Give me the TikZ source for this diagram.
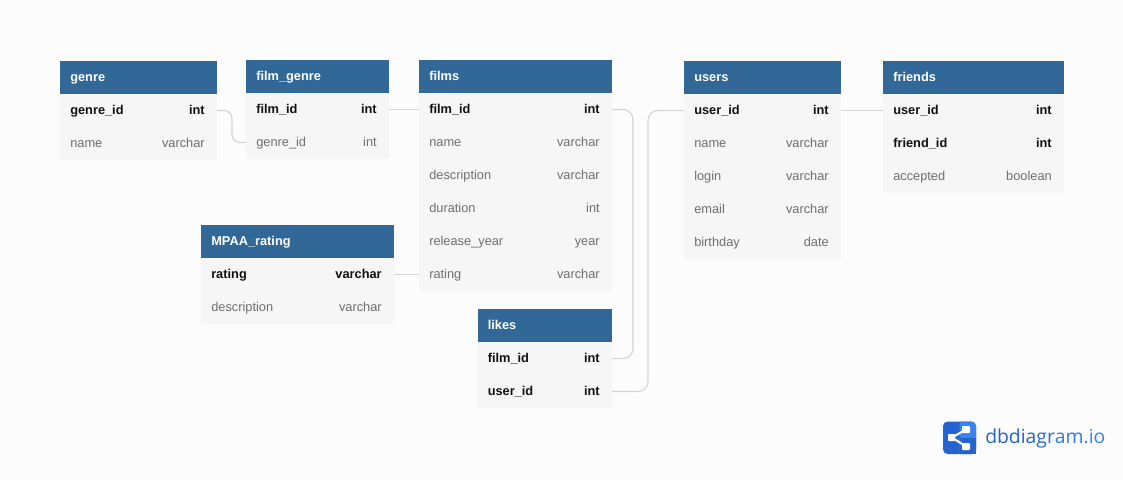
\documentclass[tikz,border=0pt]{standalone}
\usepackage{fontspec}
\setmainfont{Liberation Sans}
\newfontfamily\logofont{Open Sans}
\definecolor{pagebg}{HTML}{FCFCFC}
\definecolor{headblue}{HTML}{316897}
\definecolor{rowbg}{HTML}{F6F6F6}
\definecolor{pkink}{HTML}{111111}
\definecolor{plainink}{HTML}{6F6F6F}
\definecolor{wire}{HTML}{D4D4D4}
\definecolor{logodark}{HTML}{2563CF}
\definecolor{logolight}{HTML}{3B82F1}
\newcommand{\tblhead}[5]{% name,x,y,w,title
  \node[headbox,minimum width=#4*0.75pt] (#1) at (#2,#3) {};
  \node[headtext] (#1-title) at ([xshift=7.5pt,yshift=-0.75pt]#1.west) {#5};
}
\newcommand{\tblrow}[8]{% id,x,y,w,label,type,style-box,style-text
  \node[rowbox,minimum width=#4*0.75pt] (#1) at (#2,#3) {};
  \node[#7,anchor=west] (#1-name) at ([xshift=7.5pt,yshift=-0.75pt]#1.west) {#5};
  \node[#7,anchor=east] (#1-type) at ([xshift=-9pt,yshift=-0.75pt]#1.east) {#6};
}
\tikzset{
  headbox/.style={anchor=north west,fill=headblue,draw=none,minimum height=24.75pt,inner sep=0pt,outer sep=0pt},
  headtext/.style={anchor=west,text=white,font=\fontsize{9.6pt}{11pt}\selectfont\bfseries,inner sep=0pt,text height=7pt,text depth=2pt},
  rowbox/.style={anchor=north west,fill=rowbg,draw=none,minimum height=24.75pt,inner sep=0pt,outer sep=0pt},
  pktext/.style={text=pkink,font=\fontsize{9.6pt}{11pt}\selectfont\bfseries,inner sep=0pt,text height=7pt,text depth=2pt},
  plaintext/.style={text=plainink,font=\fontsize{9.6pt}{11pt}\selectfont,inner sep=0pt,text height=7pt,text depth=2pt},
  link/.style={draw=wire,line width=0.85pt,rounded corners=6pt},
  linkb/.style={draw=wire,line width=0.85pt,rounded corners=7.5pt}
}
\begin{document}
\begin{tikzpicture}[x=0.75pt,y=-0.75pt]
\useasboundingbox (0,0) rectangle (1123,480);
\fill[pagebg] (0,0) rectangle (1123,480);

% genre
\tblhead{genre}{60}{61}{157}{genre}
\tblrow{genre-id}{60}{94}{157}{genre\_id}{int}{pktext}{}
\tblrow{genre-name}{60}{127}{157}{name}{varchar}{plaintext}{}
% film_genre
\tblhead{fg}{246}{60}{143}{film\_genre}
\tblrow{fg-film}{246}{93}{143}{film\_id}{int}{pktext}{}
\tblrow{fg-genre}{246}{126}{143}{genre\_id}{int}{plaintext}{}
% films
\tblhead{films}{419}{60}{193}{films}
\tblrow{films-id}{419}{93}{193}{film\_id}{int}{pktext}{}
\tblrow{films-name}{419}{126}{193}{name}{varchar}{plaintext}{}
\tblrow{films-desc}{419}{159}{193}{description}{varchar}{plaintext}{}
\tblrow{films-dur}{419}{192}{193}{duration}{int}{plaintext}{}
\tblrow{films-year}{419}{225}{193}{release\_year}{year}{plaintext}{}
\tblrow{films-rating}{419}{258}{193}{rating}{varchar}{plaintext}{}
% MPAA
\tblhead{mpaa}{201}{225}{193}{MPAA\_rating}
\tblrow{mpaa-rating}{201}{258}{193}{rating}{varchar}{pktext}{}
\tblrow{mpaa-desc}{201}{291}{193}{description}{varchar}{plaintext}{}
% likes
\tblhead{likes}{477.5}{309}{134.5}{likes}
\tblrow{likes-film}{477.5}{342}{134.5}{film\_id}{int}{pktext}{}
\tblrow{likes-user}{477.5}{375}{134.5}{user\_id}{int}{pktext}{}
% users
\tblhead{users}{684}{61}{157}{users}
\tblrow{users-id}{684}{94}{157}{user\_id}{int}{pktext}{}
\tblrow{users-name}{684}{127}{157}{name}{varchar}{plaintext}{}
\tblrow{users-login}{684}{160}{157}{login}{varchar}{plaintext}{}
\tblrow{users-email}{684}{193}{157}{email}{varchar}{plaintext}{}
\tblrow{users-birth}{684}{226}{157}{birthday}{date}{plaintext}{}
% friends
\tblhead{friends}{883}{61}{181}{friends}
\tblrow{friends-user}{883}{94}{181}{user\_id}{int}{pktext}{}
\tblrow{friends-friend}{883}{127}{181}{friend\_id}{int}{pktext}{}
\tblrow{friends-acc}{883}{160}{181}{accepted}{boolean}{plaintext}{}

% connectors
\draw[link] (genre-id.east) -- ++(15,0) |- (fg-genre.west);
\draw[link] (fg-film.east) -- (films-id.west);
\draw[linkb] (films-id.east) -- ++(21,0) |- (likes-film.east);
\draw[linkb] (likes-user.east) -- ++(36,0) |- (users-id.west);
\draw[link] (mpaa-rating.east) -- (films-rating.west);
\draw[link] (users-id.east) -- (friends-user.west);

% logo
\fill[logodark,rounded corners=3.5pt] (943,421.5) rectangle (976,454);
\begin{scope}
  \clip (959.5,421) rectangle (976,454);
  \fill[logolight,rounded corners=3.5pt] (943,421.5) rectangle (976,454);
  \fill[logodark] (959.5,438) rectangle (976,454);
\end{scope}
\coordinate (hub) at (952,437.5);
\coordinate (up) at (966,429.5);
\coordinate (dn) at (966,446.5);
\draw[white,line width=1.6pt] (hub) -- (up) (hub) -- (dn);
\fill[white,rounded corners=0.6pt] (948,434) rectangle (955,441);
\fill[white,rounded corners=0.6pt] (962,426) rectangle (970,433);
\fill[white,rounded corners=0.6pt] (962,443) rectangle (970,450);
\node[anchor=west,inner sep=0pt,font=\logofont\fontsize{14.5pt}{17pt}\selectfont] (logotext) at (985,438)
  {\textcolor{logodark}{dbdia}\textcolor{logodark!70!logolight}{gr}\textcolor{logodark!35!logolight}{am}\textcolor{logolight}{.io}};
\end{tikzpicture}
\end{document}
